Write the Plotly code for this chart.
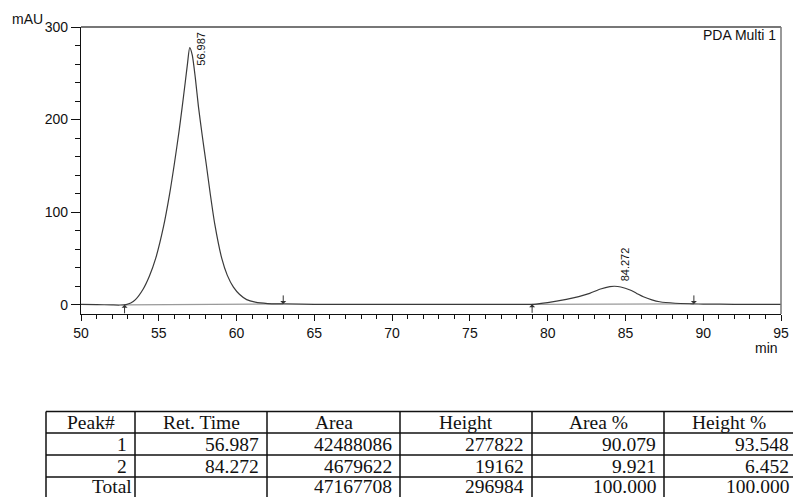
import plotly.graph_objects as go

# ---------------- data ----------------
time = [50, 51, 52, 52.5, 52.9, 53.2, 53.5, 54.0, 54.4, 54.8, 55.3, 55.7, 56.0, 56.3,
        56.5, 56.7, 56.85, 56.99, 57.15, 57.35, 57.55, 57.8, 58.05, 58.3, 58.6, 59.05,
        59.4, 59.8, 60.2, 60.65, 61.2, 62.0, 63.0, 65, 70, 75, 78, 79.1, 80.0, 81.2,
        82.0, 82.7, 83.4, 84.0, 84.3, 84.7, 85.3, 85.7, 86.15, 86.7, 87.2, 88.2, 89.3,
        90, 92, 95]
signal = [0.3, 0.2, -0.2, -0.3, 0.2, 1.8, 5.5, 17, 31, 50, 84, 120, 152, 187,
          213, 240, 261, 277.8, 270, 245, 214, 182, 152, 121, 87, 50,
          32, 19, 11, 5.5, 2.8, 1.3, 0.9, 0.5, 0.3, 0.3, 0.3, 0.5, 2.3, 5.8,
          8.8, 12.3, 17, 19.6, 20, 19.2, 15.9, 12.5, 8.6, 5.3, 3.2, 1.6, 1.0,
          0.7, 0.5, 0.4]

peak_rt = [56.987, 84.272]
peak_top = [277.8, 20.0]
peak_start = [52.8, 79.0]
peak_start_level = [-0.1, 0.4]
peak_end = [63.0, 89.4]
peak_end_level = [0.9, 0.9]

x_ticks = [50, 55, 60, 65, 70, 75, 80, 85, 90, 95]
y_ticks = [0, 100, 200, 300]

tbl_header = ["Peak#", "Ret. Time", "Area", "Height", "Area %", "Height %"]
tbl_peak = ["1", "2"]
tbl_ret = ["56.987", "84.272"]
tbl_area = ["42488086", "4679622"]
tbl_height = ["277822", "19162"]
tbl_area_pct = ["90.079", "9.921"]
tbl_height_pct = ["93.548", "6.452"]
tbl_total = ["Total", "", "47167708", "296984", "100.000", "100.000"]

# ---------------- layout helpers ----------------
W, H = 793, 497
def fx(x):
    return x / W
def fy(y):
    return 1 - y / H

PLOT_L, PLOT_R, PLOT_T, PLOT_B = 81, 781, 27, 314
SANS = "Liberation Sans, Arial, sans-serif"
SERIF = "Liberation Serif, Times New Roman, serif"

fig = go.Figure()

# baselines of the integrated peaks
for s, sl, e, el in zip(peak_start, peak_start_level, peak_end, peak_end_level):
    fig.add_trace(go.Scatter(x=[s, e], y=[sl, el], mode="lines",
                             line=dict(color="#9a9a9a", width=1.2),
                             hoverinfo="skip", showlegend=False))

fig.add_trace(go.Scatter(x=time, y=signal, mode="lines",
                         line=dict(color="#3a3a3a", width=1.2, shape="spline", smoothing=0.7),
                         showlegend=False))

annotations = []
# peak start / end markers
for s, sl in zip(peak_start, peak_start_level):
    annotations.append(dict(x=s, y=sl, xref="x", yref="y", text="", showarrow=True,
                            ax=0, ay=10, arrowhead=1, arrowsize=1, arrowwidth=1,
                            arrowcolor="#333"))
for e, el in zip(peak_end, peak_end_level):
    annotations.append(dict(x=e, y=el, xref="x", yref="y", text="", showarrow=True,
                            ax=0, ay=-10, arrowhead=1, arrowsize=1, arrowwidth=1,
                            arrowcolor="#333"))
# peak labels
label_shift = [(11, -1.5), (10.5, 21.5)]
for rt, top, (dx, dy) in zip(peak_rt, peak_top, label_shift):
    annotations.append(dict(x=rt, y=top, xref="x", yref="y", text=f"{rt:.3f}",
                            textangle=-90, showarrow=False, xanchor="center",
                            yanchor="middle", xshift=dx, yshift=dy,
                            font=dict(family=SANS, size=11, color="#111")))

annotations.append(dict(x=fx(10), y=fy(19), xref="paper", yref="paper", text="mAU",
                        showarrow=False, xanchor="left", yanchor="middle",
                        font=dict(family=SANS, size=14, color="#111")))
annotations.append(dict(x=fx(780), y=fy(347.5), xref="paper", yref="paper", text="min",
                        showarrow=False, xanchor="right", yanchor="middle",
                        font=dict(family=SANS, size=14, color="#111")))
annotations.append(dict(x=fx(778), y=fy(35), xref="paper", yref="paper", text="PDA Multi 1",
                        showarrow=False, xanchor="right", yanchor="middle",
                        font=dict(family=SANS, size=14, color="#111")))

shapes = []
# top and right frame lines
shapes.append(dict(type="line", xref="paper", yref="paper", x0=fx(PLOT_L), x1=fx(PLOT_R),
                   y0=fy(PLOT_T), y1=fy(PLOT_T), line=dict(color="#777", width=2)))
shapes.append(dict(type="line", xref="paper", yref="paper", x0=fx(PLOT_R), x1=fx(PLOT_R),
                   y0=fy(PLOT_T), y1=fy(PLOT_B), line=dict(color="#777", width=1.5)))

# ---------------- results table ----------------
col_edges = [46, 135, 267, 400, 532, 664, 796]
row_edges = [411.5, 433, 455, 477, 499]
for ye in row_edges:
    shapes.append(dict(type="line", xref="paper", yref="paper", x0=fx(col_edges[0]),
                       x1=fx(col_edges[-1]), y0=fy(ye), y1=fy(ye),
                       line=dict(color="#111", width=1.5)))
for xe in col_edges:
    shapes.append(dict(type="line", xref="paper", yref="paper", x0=fx(xe), x1=fx(xe),
                       y0=fy(row_edges[0]), y1=fy(row_edges[-1]),
                       line=dict(color="#111", width=1.5)))

rows = [list(r) for r in zip(tbl_peak, tbl_ret, tbl_area, tbl_height, tbl_area_pct, tbl_height_pct)]
rows.append(tbl_total)
tfont = dict(family=SERIF, size=19.5, color="#111")
for ci, h in enumerate(tbl_header):
    cx = (col_edges[ci] + col_edges[ci + 1]) / 2
    if ci == 5:
        cx = (664 + 793) / 2
    annotations.append(dict(x=fx(cx), y=fy((row_edges[0] + row_edges[1]) / 2),
                            xref="paper", yref="paper", text=h, showarrow=False,
                            xanchor="center", yanchor="middle", font=tfont))
for ri, row in enumerate(rows):
    cy = (row_edges[ri + 1] + row_edges[ri + 2]) / 2
    if ri == len(rows) - 1:
        cy = 486.5
    for ci, val in enumerate(row):
        if not val:
            continue
        pad = 1.5 if (ri == len(rows) - 1 and ci == 0) else 6
        rx = col_edges[ci + 1] - pad
        if ci == 5:
            rx = 791
        annotations.append(dict(x=fx(rx), y=fy(cy), xref="paper", yref="paper", text=val,
                                showarrow=False, xanchor="right", yanchor="middle",
                                font=tfont))

fig.update_layout(
    width=W, height=H,
    margin=dict(l=0, r=0, t=0, b=0, pad=0, autoexpand=False),
    paper_bgcolor="white", plot_bgcolor="white",
    showlegend=False,
    xaxis=dict(domain=[fx(PLOT_L), fx(PLOT_R)], range=[50, 95], tickvals=x_ticks,
               ticks="outside", ticklen=6, tickwidth=1, tickcolor="#111",
               showline=True, linecolor="#111", linewidth=1.2, showgrid=False,
               zeroline=False, tickfont=dict(family=SANS, size=14, color="#111"),
               minor=dict(dtick=1, tick0=50, ticks="outside", ticklen=3.5,
                          tickcolor="#111", showgrid=False),
               automargin=False),
    yaxis=dict(domain=[fy(PLOT_B), fy(PLOT_T)], range=[-10, 300], tickvals=y_ticks,
               ticks="outside", ticklen=9, tickwidth=1, tickcolor="#111",
               showline=True, linecolor="#111", linewidth=1.2, showgrid=False,
               zeroline=False, tickfont=dict(family=SANS, size=14, color="#111"),
               minor=dict(dtick=20, tick0=0, ticks="outside", ticklen=4.5,
                          tickcolor="#111", showgrid=False),
               automargin=False),
    shapes=shapes,
    annotations=annotations,
)

fig.write_html("out.html", config={"displayModeBar": False},
               post_script="document.body.style.margin='0';document.body.style.overflow='hidden';")
